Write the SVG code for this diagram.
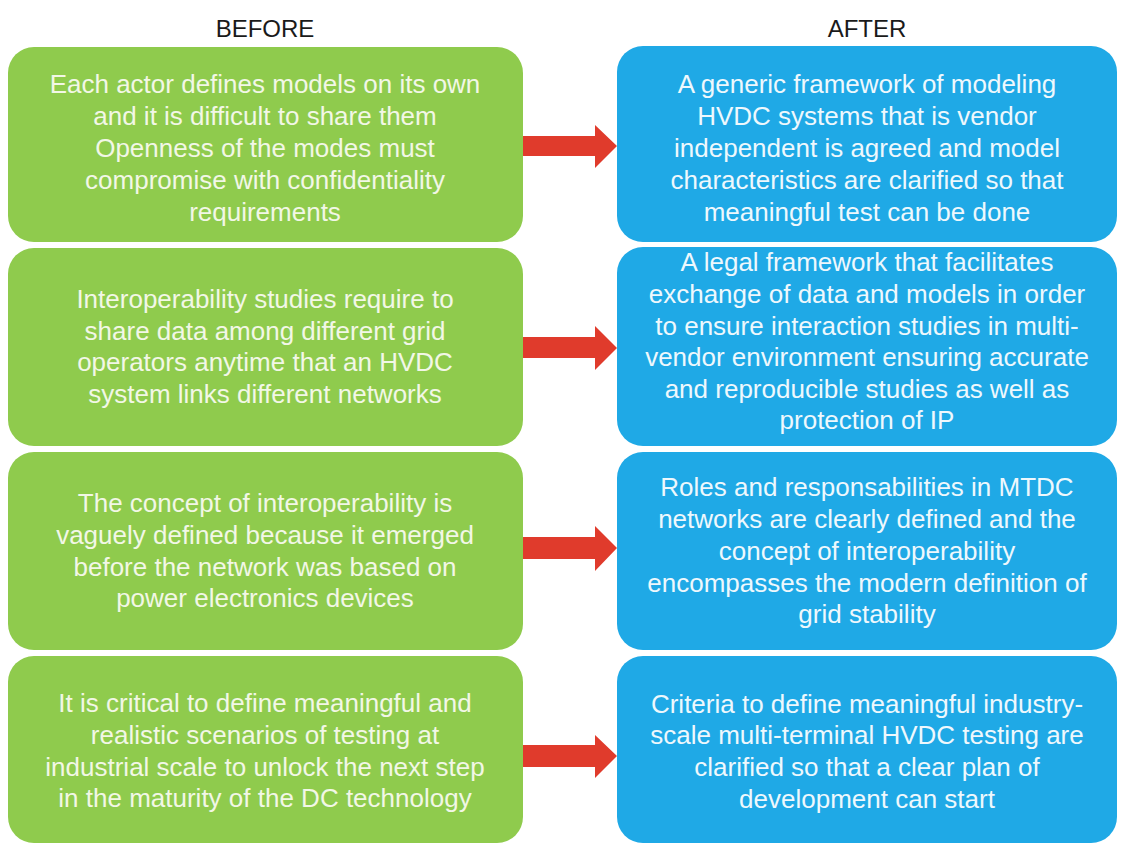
<svg xmlns="http://www.w3.org/2000/svg" width="1126" height="845" viewBox="0 0 1126 845">
<defs>
<style>
.hdr{font-family:"Liberation Sans",Arial,sans-serif;font-size:24px;fill:#1a1a1a;text-anchor:middle}
.g{fill:#8fcb4d}
.b{fill:#1fa9e6}
.t{font-family:"Liberation Sans",Arial,sans-serif;font-size:26px;fill:#f2f7e6;text-anchor:middle}
.tb{fill:#eef8fd}
.arr{fill:#e03b2c}
</style>
</defs>
<rect width="1126" height="845" fill="#ffffff"/>
<text class="hdr" x="265" y="37">BEFORE</text>
<text class="hdr" x="867" y="37">AFTER</text>

<g id="before1">
<rect class="g" x="8" y="47" width="515" height="195" rx="26"/>
<text class="t"><tspan x="265" y="93">Each actor defines models on its own</tspan><tspan x="265" y="125">and it is difficult to share them</tspan><tspan x="265" y="157">Openness of the modes must</tspan><tspan x="265" y="189">compromise with confidentiality</tspan><tspan x="265" y="221">requirements</tspan></text>
</g>
<g id="before2">
<rect class="g" x="8" y="248" width="515" height="198" rx="26"/>
<text class="t"><tspan x="265" y="308">Interoperability studies require to</tspan><tspan x="265" y="340">share data among different grid</tspan><tspan x="265" y="371">operators anytime that an HVDC</tspan><tspan x="265" y="403">system links different networks</tspan></text>
</g>
<g id="before3">
<rect class="g" x="8" y="452" width="515" height="198" rx="26"/>
<text class="t"><tspan x="265" y="512">The concept of interoperability is</tspan><tspan x="265" y="544">vaguely defined because it emerged</tspan><tspan x="265" y="576">before the network was based on</tspan><tspan x="265" y="607">power electronics devices</tspan></text>
</g>
<g id="before4">
<rect class="g" x="8" y="656" width="515" height="187" rx="26"/>
<text class="t"><tspan x="265" y="712">It is critical to define meaningful and</tspan><tspan x="265" y="744">realistic scenarios of testing at</tspan><tspan x="265" y="776">industrial scale to unlock the next step</tspan><tspan x="265" y="807">in the maturity of the DC technology</tspan></text>
</g>

<g id="after1">
<rect class="b" x="617" y="46" width="500" height="196" rx="26"/>
<text class="t tb"><tspan x="867" y="93">A generic framework of modeling</tspan><tspan x="867" y="125">HVDC systems that is vendor</tspan><tspan x="867" y="157">independent is agreed and model</tspan><tspan x="867" y="189">characteristics are clarified so that</tspan><tspan x="867" y="221">meaningful test can be done</tspan></text>
</g>
<g id="after2">
<rect class="b" x="617" y="247" width="500" height="199" rx="26"/>
<text class="t tb"><tspan x="867" y="271">A legal framework that facilitates</tspan><tspan x="867" y="303">exchange of data and models in order</tspan><tspan x="867" y="335">to ensure interaction studies in multi-</tspan><tspan x="867" y="366">vendor environment ensuring accurate</tspan><tspan x="867" y="398">and reproducible studies as well as</tspan><tspan x="867" y="429">protection of IP</tspan></text>
</g>
<g id="after3">
<rect class="b" x="617" y="452" width="500" height="198" rx="26"/>
<text class="t tb"><tspan x="867" y="496">Roles and responsabilities in MTDC</tspan><tspan x="867" y="528">networks are clearly defined and the</tspan><tspan x="867" y="560">concept of interoperability</tspan><tspan x="867" y="592">encompasses the modern definition of</tspan><tspan x="867" y="623">grid stability</tspan></text>
</g>
<g id="after4">
<rect class="b" x="617" y="656" width="500" height="187" rx="26"/>
<text class="t tb"><tspan x="867" y="713">Criteria to define meaningful industry-</tspan><tspan x="867" y="744">scale multi-terminal HVDC testing are</tspan><tspan x="867" y="776">clarified so that a clear plan of</tspan><tspan x="867" y="808">development can start</tspan></text>
</g>

<g id="connectors">
<polygon class="arr" points="523,136 595,136 595,125 617,146 595,168 595,156 523,156"/>
<polygon class="arr" points="523,337 595,337 595,326 617,348 595,370 595,358 523,358"/>
<polygon class="arr" points="523,537 595,537 595,526 617,548 595,571 595,559 523,559"/>
<polygon class="arr" points="523,745 595,745 595,735 617,756 595,778 595,767 523,767"/>
</g>
</svg>
